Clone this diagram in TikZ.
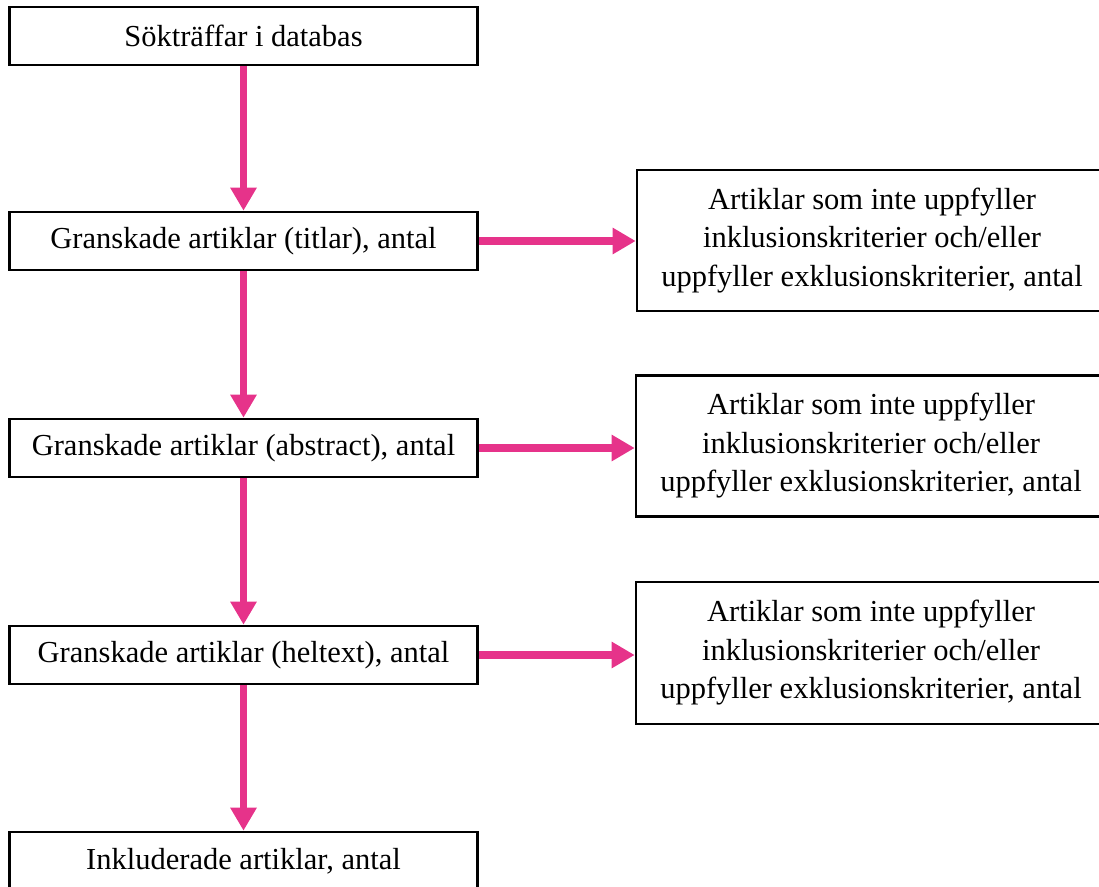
\documentclass[tikz,border=0pt]{standalone}
\usepackage{fontspec}
\setmainfont{Liberation Serif}
\usetikzlibrary{arrows.meta}
\definecolor{flowpink}{RGB}{230,51,138}
\begin{document}
\begin{tikzpicture}[x=1pt,y=-1pt,
  box/.style={draw=black, line width=2.6pt, inner sep=0pt, font=\fontsize{30.5}{38.5}\selectfont, align=center},
  leftbox/.style={box, minimum width=468pt, minimum height=58pt},
  rightbox/.style={box, minimum width=470pt, minimum height=141pt},
  flow/.style={draw=flowpink, line width=7.5pt, -{Triangle[length=23pt,width=25pt]}}]
\useasboundingbox (0,0) rectangle (1099,886);
\clip (0,0) rectangle (1099,886);
\node[leftbox] (b1) at (243.5,36) {Sökträffar i databas};
\node[leftbox] (b2) at (243.5,241) {Granskade artiklar (titlar), antal};
\node[leftbox] (b3) at (243.5,448) {Granskade artiklar (abstract), antal};
\node[leftbox] (b4) at (243.5,655) {Granskade artiklar (heltext), antal};
\node[leftbox] (b5) at (243.5,861) {Inkluderade artiklar, antal};
\node[rightbox] (r1) at (872,240.5) {Artiklar som inte uppfyller\\inklusionskriterier och/eller\\uppfyller exklusionskriterier, antal};
\node[rightbox] (r2) at (871,446) {Artiklar som inte uppfyller\\inklusionskriterier och/eller\\uppfyller exklusionskriterier, antal};
\node[rightbox, minimum height=142pt] (r3) at (871,653) {Artiklar som inte uppfyller\\inklusionskriterier och/eller\\uppfyller exklusionskriterier, antal};
\draw[flow] (b1) -- (b2);
\draw[flow] (b2) -- (b3);
\draw[flow] (b3) -- (b4);
\draw[flow] (b4) -- (b5);
\draw[flow] (b2.east) -- (b2.east -| r1.west);
\draw[flow] (b3.east) -- (b3.east -| r2.west);
\draw[flow] (b4.east) -- (b4.east -| r3.west);
\end{tikzpicture}
\end{document}
